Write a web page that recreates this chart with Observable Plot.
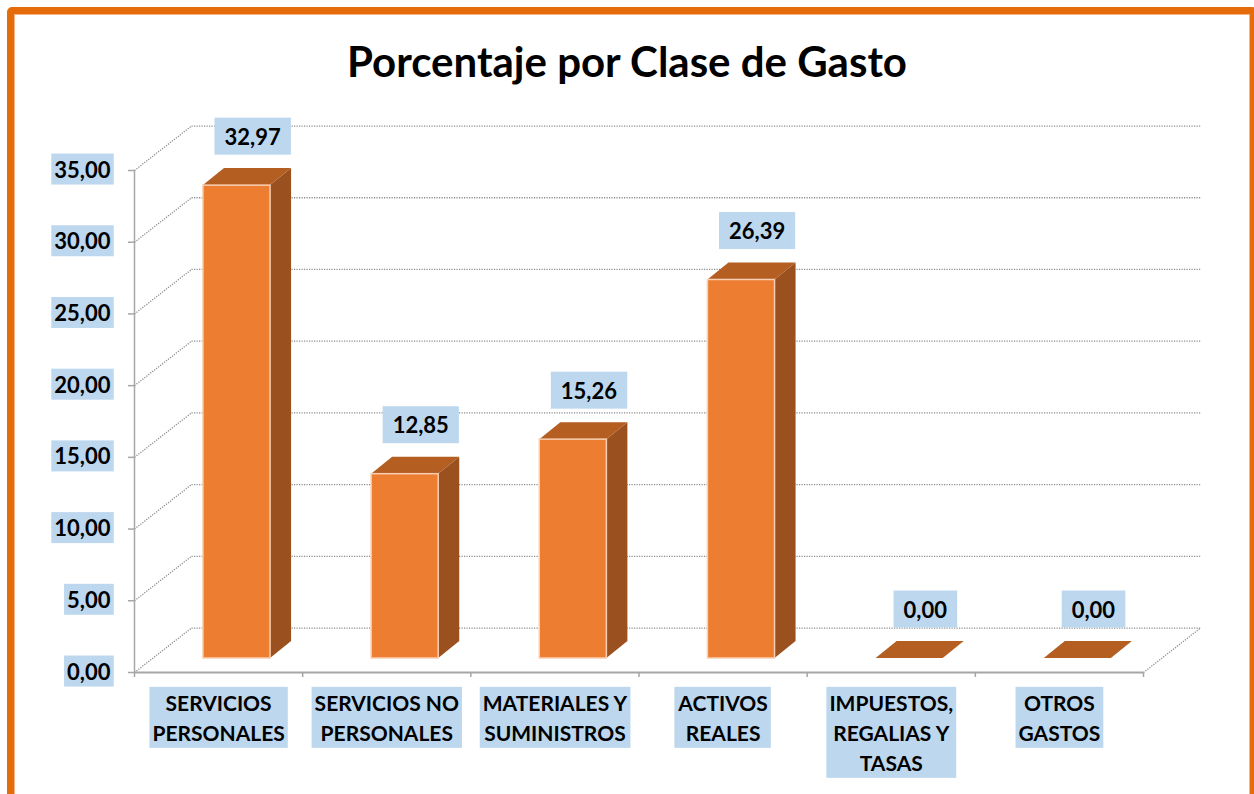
<!DOCTYPE html>
<html><head><meta charset="utf-8">
<script src="https://cdn.jsdelivr.net/npm/d3@7"></script>
<script src="https://cdn.jsdelivr.net/npm/@observablehq/plot@0.6"></script>
<style>
html,body{margin:0;padding:0;background:#fff;width:1254px;height:794px;overflow:hidden;}
#chart{position:absolute;left:0;top:0;}
#title{position:absolute;left:0;top:36px;width:1254px;text-align:center;font:bold 42px Lato, sans-serif;line-height:1.2;color:#000;margin:0;}
#frame{position:absolute;left:7px;top:7px;width:1250px;height:830px;box-sizing:border-box;border:7px solid #E46C0A;border-radius:5px;box-shadow:inset 0 0 0 1px #F4B183;pointer-events:none;}
</style></head>
<body>
<div id="chart"></div>
<h1 id="title">Porcentaje por Clase de Gasto</h1>
<div id="frame"></div>
<script>
// ---- data ----
const categories = ["SERVICIOS PERSONALES", "SERVICIOS NO PERSONALES", "MATERIALES Y SUMINISTROS", "ACTIVOS REALES", "IMPUESTOS, REGALIAS Y TASAS", "OTROS GASTOS"];
const categoryLabels = ["SERVICIOS\nPERSONALES", "SERVICIOS NO\nPERSONALES", "MATERIALES Y\nSUMINISTROS", "ACTIVOS\nREALES", "IMPUESTOS,\nREGALIAS Y\nTASAS", "OTROS\nGASTOS"];
const values = [32.97, 12.85, 15.26, 26.39, 0.00, 0.00];
const yTicks = [0, 5, 10, 15, 20, 25, 30, 35];

// ---- 3D look (in scale units) ----
const DX = 0.339, DY = 3.10;      // back wall depth
const BX1 = 0.41, BX2 = 0.809;     // bar front face within a category
const SX = 0.125, SY = 1.185;      // bar depth
const BAR_DY = -14;                // bars sit a little behind the front plane
const fmt = d => d.toFixed(2).replace(".", ",");
const FONT = "Lato, 'Open Sans', sans-serif";
const grid = {stroke: "#8c8c8c", strokeWidth: 1.3, strokeDasharray: "1.2 1.3"};

const bars = values.map((v, i) => ({k: categories[i], i, v}));
const sideData = bars.flatMap(b => [
  {k: b.k, x: b.i + BX2, y1: 0, y2: b.v},
  {k: b.k, x: b.i + BX2 + SX, y1: SY, y2: b.v + SY}
]);
const topData = bars.flatMap(b => [
  {k: b.k, y: b.v, x1: b.i + BX1, x2: b.i + BX2},
  {k: b.k, y: b.v + SY, x1: b.i + BX1 + SX, x2: b.i + BX2 + SX}
]);

const plot = Plot.plot({
  width: 1254, height: 794,
  marginLeft: 134, marginRight: 111, marginTop: 170, marginBottom: 122,
  style: {fontFamily: FONT, background: "transparent"},
  x: {type: "linear", domain: [0, categories.length], axis: null},
  y: {type: "linear", domain: [0, 35], axis: null},
  marks: [
    // back wall gridlines
    Plot.link(yTicks, {x1: () => DX, x2: () => categories.length + DX, y1: d => d + DY, y2: d => d + DY, ...grid}),
    // side wall diagonals
    Plot.link(yTicks, {x1: () => 0, y1: d => d, x2: () => DX, y2: d => d + DY, ...grid}),
    // floor right edge
    Plot.link([categories.length], {x1: d => d, y1: () => 0, x2: d => d + DX, y2: () => DY, ...grid}),
    // front axes
    Plot.ruleX([0], {y1: 0, y2: 35, stroke: "#a6a6a6", strokeWidth: 1.5}),
    Plot.ruleY([0], {x1: 0, x2: categories.length, stroke: "#a6a6a6", strokeWidth: 2}),
    Plot.axisY({ticks: yTicks, tickSize: 6, tickFormat: () => "", stroke: "#a6a6a6", strokeWidth: 1.5}),
    Plot.axisX({ticks: d3.range(categories.length + 1), tickSize: 5, tickFormat: () => "", stroke: "#a6a6a6", strokeWidth: 1.5}),
    // bars
    Plot.areaY(sideData, {x: "x", y1: "y1", y2: "y2", z: "k", fill: "#9A501F", dy: BAR_DY}),
    Plot.areaX(topData, {y: "y", x1: "x1", x2: "x2", z: "k", fill: "#B55E22", dy: BAR_DY}),
    Plot.rect(bars.filter(b => b.v > 0), {x1: b => b.i + BX1, x2: b => b.i + BX2, y1: () => 0, y2: "v", fill: "#ED7D31", stroke: "#F8CFB2", strokeWidth: 1.5, dy: BAR_DY}),
    // y tick labels
    Plot.text(yTicks, {x: () => 0, y: d => d, text: fmt, textAnchor: "end", dx: -24, fontSize: 22, fontWeight: "bold", fontFamily: FONT, fill: "#000", ariaDescription: "ylabels"}),
    // data labels
    Plot.text(bars, {x: b => b.i + 0.5, y: "v", text: b => fmt(b.v), dx: 34, dy: -62, fontSize: 22, fontWeight: "bold", fontFamily: FONT, fill: "#000", ariaDescription: "vlabels"}),
    // category labels
    Plot.text(categoryLabels, {x: (d, i) => i + 0.5, y: () => 0, text: d => d, lineAnchor: "top", dy: 17, lineHeight: 1.43, fontSize: 21, fontWeight: "bold", fontFamily: FONT, fill: "#000", ariaDescription: "xlabels"})
  ]
});
document.getElementById("chart").appendChild(plot);

function addBoxes(label, padX, padY) {
  const g = plot.querySelector(`g[aria-description="${label}"]`);
  if (!g) return;
  g.querySelectorAll("rect.bgbox").forEach(r => r.remove());
  g.querySelectorAll("text").forEach(t => {
    const b = t.getBBox();
    const r = document.createElementNS("http://www.w3.org/2000/svg", "rect");
    r.setAttribute("class", "bgbox");
    r.setAttribute("x", b.x - padX);
    r.setAttribute("y", b.y - padY);
    r.setAttribute("width", b.width + 2 * padX);
    r.setAttribute("height", b.height + 2 * padY);
    r.setAttribute("fill", "#BDD7EE");
    r.setAttribute("stroke", "none");
    const tr = t.getAttribute("transform");
    if (tr) r.setAttribute("transform", tr);
    t.parentNode.insertBefore(r, t);
  });
}
function boxes() {
  addBoxes("ylabels", 3, 2);
  addBoxes("vlabels", 10, 5);
  addBoxes("xlabels", 3, 3);
}
boxes();
if (document.fonts && document.fonts.ready) document.fonts.ready.then(boxes);
</script>
</body></html>
